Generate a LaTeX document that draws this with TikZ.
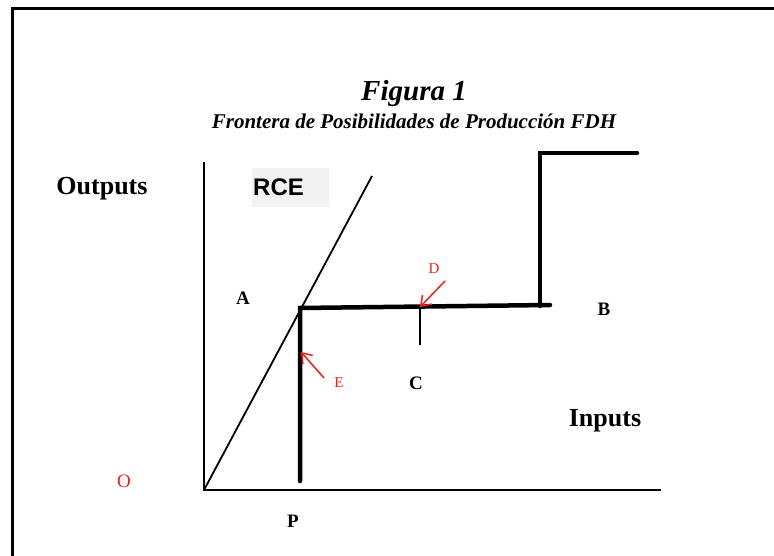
\documentclass[tikz,border=0pt]{standalone}
\usepackage{fontspec}
\setmainfont{Liberation Serif}
\newfontfamily\rcefont{Liberation Sans}
\usetikzlibrary{arrows.meta, positioning}
\definecolor{fdhred}{HTML}{FF1A1A}
\definecolor{fdhgray}{HTML}{F2F2F2}

\begin{document}
\begin{tikzpicture}[x=1pt, y=-1pt,
  axis/.style={line width=2pt, line cap=rect},
  frontier/.style={line width=4.5pt, line cap=round},
  ptlbl/.style={font=\fontsize{19}{21}\selectfont\bfseries, inner sep=0pt},
  axlbl/.style={font=\fontsize{26}{28}\selectfont\bfseries, inner sep=0pt},
  redlbl/.style={font=\fontsize{15}{17}\selectfont, text=fdhred, inner sep=0pt},
  pointer/.style={draw=fdhred, line width=1.5pt, -{Straight Barb[length=9pt, width=13pt]}},
]
  \useasboundingbox (0,0) rectangle (774,556);
  \draw[line width=3pt] (12,556) -- (12,9) -- (774,9);

  % titles
  \node[font=\fontsize{29}{31}\selectfont\bfseries\itshape, inner sep=0pt] (title) at (414,94) {Figura 1};
  \node[font=\fontsize{21}{23}\selectfont\bfseries\itshape, inner sep=0pt, below=6pt of title] (subtitle)
    {Frontera de Posibilidades de Producción FDH};

  % axes and ray
  \coordinate (orig) at (204,490);
  \coordinate (ytop) at (204,163);
  \coordinate (xend) at (660,490);
  \coordinate (rayend) at (372,176);
  \draw[axis] (ytop) -- (orig) -- (xend);
  \draw[line width=1.8pt] (orig) -- (rayend);

  % FDH frontier
  \coordinate (pfoot) at (300,481);
  \coordinate (kink) at (300,308);
  \coordinate (hend) at (550,305);
  \coordinate (stepbot) at (540,306);
  \coordinate (steptop) at (540,153);
  \coordinate (topend) at (637,153);
  \draw[frontier] (pfoot) -- (kink) -- (hend);
  \draw[frontier] (stepbot) -- (steptop) -- (topend);
  \coordinate (dhit) at (420,307);
  \coordinate (cfoot) at (420,345);
  \draw[line width=2.2pt] (dhit) -- (cfoot);

  % pointers
  \coordinate (dtail) at (445,281);
  \coordinate (etail) at (324,378);
  \coordinate (ehit) at (301,352);
  \draw[pointer] (dtail) -- (dhit);
  \draw[pointer] (etail) -- (ehit);

  % RCE box
  \fill[fdhgray] (252,168) rectangle (329,207);
  \node[font=\rcefont\fontsize{24}{26}\selectfont\bfseries, inner sep=0pt, anchor=west] (rce) at (253,187) {RCE};

  % labels
  \node[axlbl] (outputs) at (102,189) {Outputs};
  \node[axlbl] (inputs) at (605,421) {Inputs};
  \node[ptlbl] (la) at (243,298) {A};
  \node[ptlbl] (lb) at (604,309) {B};
  \node[ptlbl] (lc) at (416,383) {C};
  \node[ptlbl] (lp) at (293,521) {P};
  \node[redlbl] (ld) at (434,269) {D};
  \node[redlbl] (le) at (339,383) {E};
  \node[redlbl, font=\fontsize{19}{21}\selectfont] (lo) at (124,481) {O};
\end{tikzpicture}
\end{document}
